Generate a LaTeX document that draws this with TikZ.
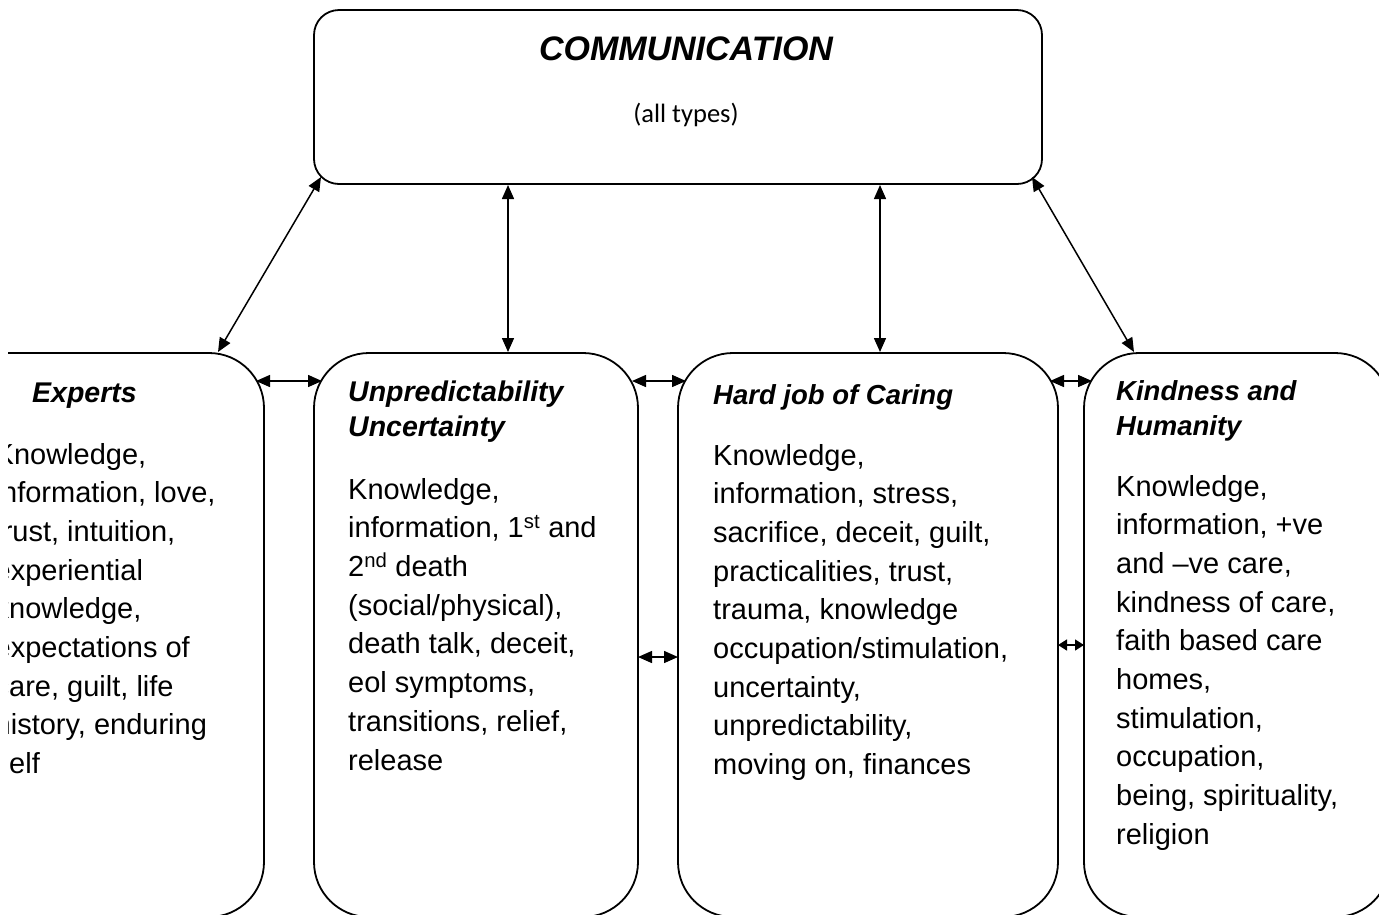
\documentclass[tikz,border=0pt]{standalone}
\usepackage{fontspec}
\setmainfont{Liberation Sans}
\newfontfamily\calibfont{Carlito}
\usetikzlibrary{arrows.meta}
\begin{document}
\begin{tikzpicture}[x=1pt,y=-1pt,
  box/.style={draw, line width=1.8pt, rounded corners=55pt, minimum height=564pt, inner sep=0pt},
  body/.style={anchor=base west, align=left, inner sep=0pt, font=\fontsize{29}{38.7}\selectfont},
  ttl/.style={anchor=base west, align=left, inner sep=0pt, font=\fontsize{28.5}{35}\selectfont\bfseries\itshape},
  arr/.style={line width=1.5pt, {Triangle[length=14pt,width=12pt]}-{Triangle[length=14pt,width=12pt]}}]
\useasboundingbox (0,0) rectangle (1379,914);
\clip (8,-5) rectangle (1379,914);
% boxes
\node[box, minimum width=728pt, minimum height=174pt, rounded corners=25pt] (comm) at (678,97) {};
\node[box, minimum width=324pt] (b1) at (102,635) {};
\node[box, minimum width=324pt] (b2) at (476,635) {};
\node[box, minimum width=380pt] (b3) at (868,635) {};
\node[box, minimum width=306pt] (b4) at (1237,635) {};
% texts (anchor = baseline of the last line)
\node[anchor=base, inner sep=0pt, font=\fontsize{34}{40}\selectfont\bfseries\itshape] (commt) at (686,60) {COMMUNICATION};
\node[anchor=base, inner sep=0pt, font=\calibfont\fontsize{26.5}{30}\selectfont] (comms) at (686,122) {(all types)};
\node[ttl] (t1) at (32,402) {Experts};
\node[ttl] (t2) at (348,436) {Unpredictability\\Uncertainty};
\node[ttl, font=\fontsize{27.5}{34}\selectfont\bfseries\itshape] (t3) at (713,404) {Hard job of Caring};
\node[ttl, font=\fontsize{27.5}{35}\selectfont\bfseries\itshape] (t4) at (1116,435) {Kindness and\\Humanity};
\node[body] (x1) at (-5.5,773.6) {Knowledge,\\information, love,\\trust, intuition,\\experiential\\knowledge,\\expectations of\\care, guilt, life\\history, enduring\\self};
\node[body] (x2) at (348,770) {Knowledge,\\information, 1\textsuperscript{st} and\\2\textsuperscript{nd} death\\(social/physical),\\death talk, deceit,\\eol symptoms,\\transitions, relief,\\release};
\node[body] (x3) at (713,774.6) {Knowledge,\\information, stress,\\sacrifice, deceit, guilt,\\practicalities, trust,\\trauma, knowledge\\occupation/stimulation,\\uncertainty,\\unpredictability,\\moving on, finances};
\node[body] (x4) at (1116,844.3) {Knowledge,\\information, +ve\\and –ve care,\\kindness of care,\\faith based care\\homes,\\stimulation,\\occupation,\\being, spirituality,\\religion};
% connector end points
\coordinate (cA) at (321,177);
\coordinate (eA) at (218,352);
\coordinate (cB) at (508,185);
\coordinate (eB) at (508,352);
\coordinate (cC) at (880,185);
\coordinate (eC) at (880,352);
\coordinate (cD) at (1032,177);
\coordinate (eD) at (1134,352);
\coordinate (h1a) at (256,381);
\coordinate (h1b) at (322,381);
\coordinate (h2a) at (632,381);
\coordinate (h2b) at (686,381);
\coordinate (h3a) at (1050,381);
\coordinate (h3b) at (1092,381);
\coordinate (m1a) at (638,657);
\coordinate (m1b) at (678,657);
\coordinate (m2a) at (1058,645);
\coordinate (m2b) at (1084,645);
% connectors
\draw[arr] (cA) -- (eA);
\draw[arr] (cB) -- (eB);
\draw[arr] (cC) -- (eC);
\draw[arr] (cD) -- (eD);
\draw[arr] (h1a) -- (h1b);
\draw[arr] (h2a) -- (h2b);
\draw[arr] (h3a) -- (h3b);
\draw[arr] (m1a) -- (m1b);
\draw[arr, {Triangle[length=9pt,width=11pt]}-{Triangle[length=9pt,width=11pt]}] (m2a) -- (m2b);
\end{tikzpicture}
\end{document}
